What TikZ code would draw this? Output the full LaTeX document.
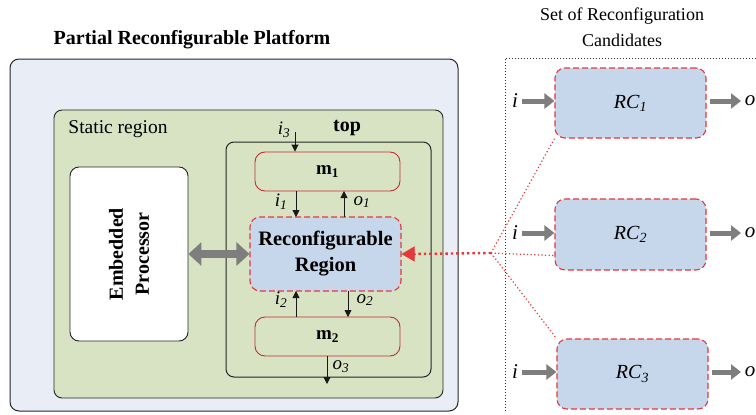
\documentclass[tikz,border=0pt]{standalone}
\usepackage{fontspec}
\setmainfont{Liberation Serif}
\usetikzlibrary{arrows.meta,calc}

\definecolor{platfill}{HTML}{E9EEF6}
\definecolor{statfill}{HTML}{D7E3C2}
\definecolor{rrfill}{HTML}{C6D7EC}
\definecolor{rcred}{HTML}{E5383B}
\definecolor{arrgray}{HTML}{7E7E7E}

\tikzset{
  box/.style={draw, rectangle, inner sep=0pt},
  platbox/.style={box, fill=platfill, draw=black!85, line width=1pt, rounded corners=9pt},
  statbox/.style={box, fill=statfill, draw=black!85, line width=0.9pt, rounded corners=8pt},
  topbox/.style={box, draw=black!85, line width=1pt, rounded corners=8pt},
  modbox/.style={box, draw=rcred!85!black, line width=0.9pt, rounded corners=10pt, font=\fontsize{19}{21}\selectfont\bfseries},
  rrbox/.style={box, fill=rrfill, draw=rcred, line width=1.1pt, dash pattern=on 6pt off 3pt, rounded corners=10pt, align=center, font=\fontsize{20.5}{26}\selectfont\bfseries},
  rcbox/.style={box, fill=rrfill, draw=rcred, line width=1.1pt, dash pattern=on 6pt off 3pt, rounded corners=10pt, font=\fontsize{20}{22}\selectfont\itshape},
  sig/.style={-{Triangle[length=7pt,width=7pt]}, line width=0.9pt, black!90},
  sigl/.style={font=\fontsize{19}{21}\selectfont\itshape},
  iolbl/.style={font=\fontsize{21}{23}\selectfont\itshape},
  fatarrow/.style={arrgray, line width=5pt, -{Triangle[length=10pt,width=15pt]}},
  selline/.style={rcred, line width=1.2pt, dash pattern=on 1.2pt off 2.4pt},
}

\begin{document}
\begin{tikzpicture}[x=1pt,y=-1pt]
\useasboundingbox (0,0) rectangle (756,415);

% titles
\node[font=\fontsize{20}{22}\selectfont\bfseries] (ptitle) at (192,40) {Partial Reconfigurable Platform};
\node[font=\fontsize{18}{26}\selectfont, align=center] (ctitle) at (622,27) {Set of Reconfiguration\\Candidates};

% platform and its regions
\node[platbox, minimum width=448pt, minimum height=352pt] (plat) at (234,235) {};
\node[statbox, minimum width=389pt, minimum height=288pt] (stat) at (248.5,254) {};
\node[font=\fontsize{19.5}{21}\selectfont] (statlbl) at (118,129) {Static region};
\node[topbox, minimum width=205pt, minimum height=235pt] (top) at (328.5,259.5) {};
\node[font=\fontsize{20}{22}\selectfont\bfseries] (toplbl) at (347,128) {top};

\node[modbox, minimum width=145pt, minimum height=39pt] (m1) at (327.5,171.5) {m\textsubscript{1}};
\node[modbox, minimum width=145pt, minimum height=39pt] (m2) at (327.5,336.5) {m\textsubscript{2}};
\node[rrbox, minimum width=151pt, minimum height=74pt] (rr) at (325.5,254) {Reconfigurable\\Region};

\node[box, fill=white, draw=black!85, line width=0.9pt, rounded corners=9pt, minimum width=118pt, minimum height=174pt] (ep) at (129,254) {};
\node[rotate=90, align=center, font=\fontsize{20}{26}\selectfont\bfseries] (eplbl) at (ep.center) {Embedded\\Processor};

% processor <-> region link
\draw[arrgray, line width=8pt, {Triangle[length=13pt,width=23pt]}-{Triangle[length=13pt,width=23pt]}] (ep.east |- rr.west) -- (rr.west);

% module signals
\coordinate (i3top) at (295,132);
\draw[sig] (i3top) -- (i3top |- m1.north);
\node[sigl] (i3lbl) at (284,130) {i\textsubscript{3}};
\draw[sig] (296,191) -- (296,217);
\node[sigl] (i1lbl) at (281,202) {i\textsubscript{1}};
\draw[sig] (344,217) -- (344,191);
\node[sigl] (o1lbl) at (362,202) {o\textsubscript{1}};
\draw[sig] (296,317) -- (296,291);
\node[sigl] (i2lbl) at (281,300) {i\textsubscript{2}};
\draw[sig] (348,291) -- (348,317);
\node[sigl] (o2lbl) at (365,300) {o\textsubscript{2}};
\coordinate (o3end) at (327,384);
\draw[sig] (o3end |- m2.south) -- (o3end);
\node[sigl] (o3lbl) at (341,367) {o\textsubscript{3}};

% candidate set
\draw[dotted, line width=1pt, black!80] (505,411) -- (505,58) -- (756,58);
\node[rcbox, minimum width=151pt, minimum height=70pt] (rc1) at (630.5,103) {RC\textsubscript{1}};
\node[rcbox, minimum width=151pt, minimum height=71pt] (rc2) at (630.5,234.5) {RC\textsubscript{2}};
\node[rcbox, minimum width=151pt, minimum height=70pt] (rc3) at (632.5,374) {RC\textsubscript{3}};

\foreach \r/\yy in {rc1/101, rc2/233, rc3/372} {
  \coordinate (row\r) at (0,\yy);
  \node[iolbl] (in\r) at (515,\yy) {i};
  \node[iolbl] (out\r) at (750,\yy) {o};
  \draw[fatarrow] (522,\yy) -- (\r.west |- row\r);
  \draw[fatarrow] ($(\r.east |- row\r)+(3,0)$) -- (741,\yy);
}

% selection of a candidate for the region
\coordinate (hub) at (491,253);
\draw[selline, line width=2.4pt, dash pattern=on 2.4pt off 3pt] (hub) -- ($(rr.east)+(12,0)$);
\draw[rcred, -{Triangle[length=13pt,width=15pt]}, line width=0.1pt] ($(rr.east)+(13,0)$) -- (rr.east);
\draw[selline] (hub) -- (rc1.south west);
\draw[selline] (hub) -- ($(rc2.south west)+(0,-15)$);
\draw[selline] (hub) -- (rc3.north west);
\end{tikzpicture}
\end{document}
